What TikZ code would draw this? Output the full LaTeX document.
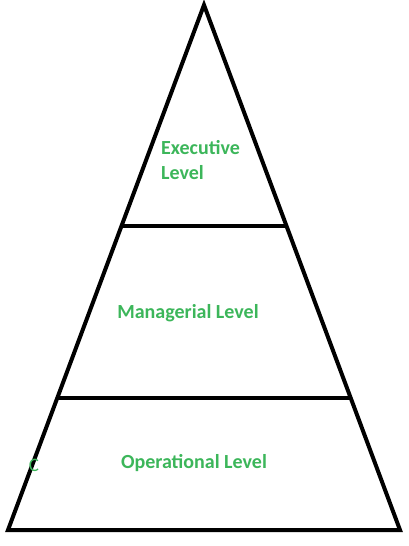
\documentclass[tikz,border=0pt]{standalone}
\usepackage{fontspec}
\setmainfont{Carlito}
\definecolor{lvlgreen}{RGB}{60,182,90}
\tikzset{
  edge/.style={line width=4pt, line join=miter},
  lvl/.style={text=lvlgreen, font=\fontsize{20}{25}\selectfont\bfseries, align=left, inner sep=0pt}
}
\begin{document}
\begin{tikzpicture}[x=1pt, y=-1pt]
            \useasboundingbox (0,0) rectangle (408,546);

            % Pyramid corners
            \coordinate (apex) at (204, 5);
            \coordinate (bl) at (8, 530);
            \coordinate (br) at (400, 530);
            \draw[edge] (bl) -- (apex) -- (br) -- cycle;

            % Level dividers
            \coordinate (u1) at (121.5, 226);
            \coordinate (u2) at (288, 226);
            \coordinate (m1) at (57.5, 398);
            \coordinate (m2) at (351, 398);
            \draw[edge] (u1) -- (u2);
            \draw[edge] (m1) -- (m2);

            % Level labels
            \node[lvl, anchor=west] (exec) at (161, 160) {Executive\\Level};
            \node[lvl] (mgr) at (188, 313) {Managerial Level};
            \node[lvl] (ops) at (194, 463) {Operational Level};
            \node[text=lvlgreen, font=\fontsize{19}{22}\selectfont, inner sep=0pt] (mark) at (34, 465) {C};
\end{tikzpicture}
\end{document}
